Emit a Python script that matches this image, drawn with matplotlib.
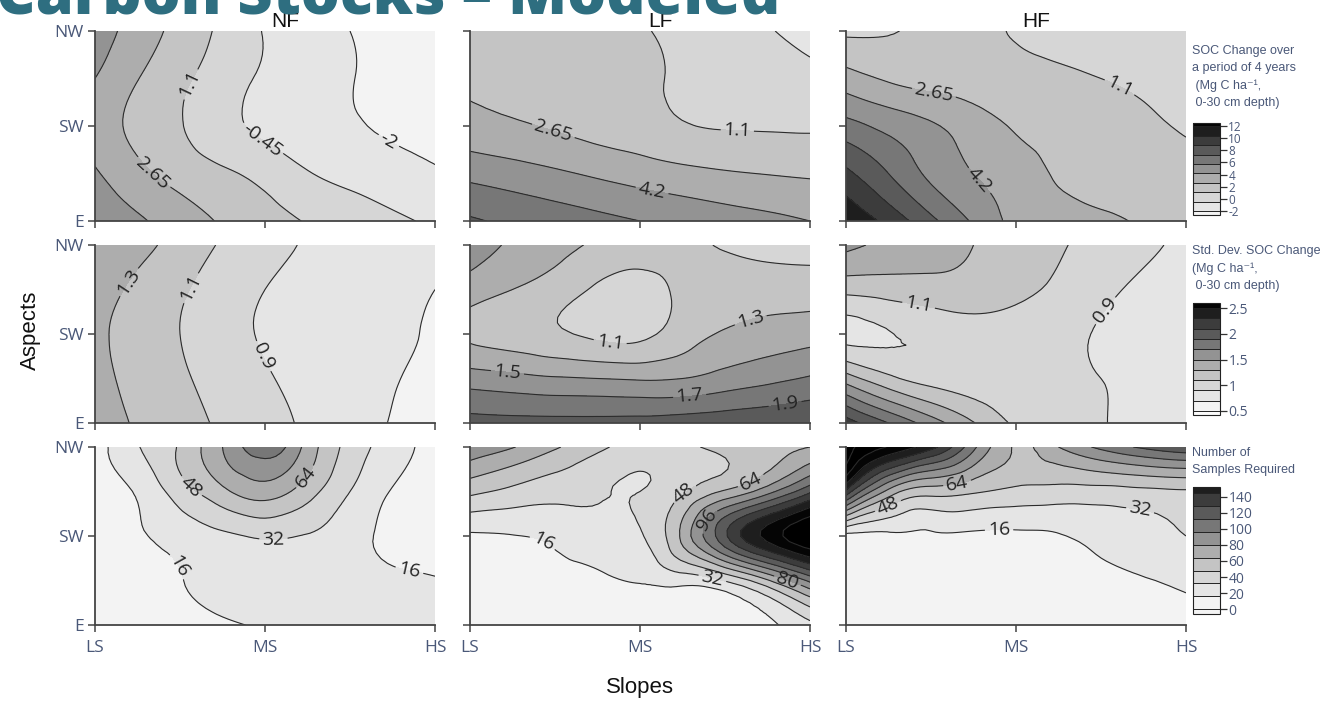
from pathlib import Path

import matplotlib

matplotlib.use("Agg")
import matplotlib.pyplot as plt
import matplotlib.tri as mtri
import numpy as np


OUT = Path("out.png")

FORESTS = ["NF", "LF", "HF"]
SLOPES = ["LS", "MS", "HS"]
ASPECTS = ["E", "SW", "NW"]

# model grid: slope position (LS=0, MS=1, HS=2) x aspect (E=0, SW=1, NW=2)
GRID_X = [0, 0.25, 0.5, 0.75, 1, 1.25, 1.5, 1.75, 2]
GRID_Y = [0, 0.5, 1, 1.5, 2]

# SOC change over 4 years (Mg C/ha), rows go E -> NW
SOC_NF = [
    [5.3, 4.45, 3.4, 2.5, 1.75, 1.0, 0.4, -0.15, -0.7],
    [4.4, 3.05, 2.08, 1.35, 0.6, -0.35, -0.9, -1.4, -1.85],
    [3.4, 2.3, 1.2, 0.02, -0.77, -1.45, -1.85, -2.2, -2.4],
    [4.2, 2.7, 1.45, 0.28, -0.67, -1.3, -1.93, -2.4, -2.7],
    [5.0, 3.53, 2.12, 0.77, -0.54, -1.27, -2.0, -2.5, -2.8],
]
SOC_LF = [
    [7.5, 7.0, 6.6, 6.2, 5.75, 5.35, 4.95, 4.6, 4.2],
    [5.3, 4.9, 4.45, 3.95, 3.5, 3.1, 2.8, 2.6, 2.45],
    [3.2, 2.85, 2.5, 2.1, 1.7, 1.2, 1.0, 0.95, 0.9],
    [2.45, 2.25, 2.0, 1.7, 1.35, 0.9, 0.5, 0.2, -0.1],
    [2.2, 2.0, 1.75, 1.5, 1.2, 0.75, 0.2, -0.35, -0.9],
]
SOC_HF = [
    [11.8, 9.9, 7.7, 5.55, 3.75, 3.3, 2.9, 2.5, 2.1],
    [9.2, 7.3, 5.4, 4.2, 3.3, 2.5, 2.1, 1.85, 1.6],
    [6.3, 5.3, 4.4, 3.4, 2.5, 2.05, 1.7, 1.35, 0.95],
    [3.3, 2.45, 2.0, 1.8, 1.6, 1.35, 1.1, 0.85, 0.55],
    [0.8, 1.0, 1.4, 1.4, 1.0, 0.7, 0.45, 0.25, 0.1],
]

# std. dev. of SOC change
STD_NF = [
    [1.38, 1.28, 1.17, 1.07, 0.97, 0.87, 0.78, 0.69, 0.62],
    [1.36, 1.24, 1.13, 1.02, 0.92, 0.84, 0.77, 0.71, 0.66],
    [1.34, 1.22, 1.1, 0.98, 0.88, 0.82, 0.77, 0.73, 0.68],
    [1.38, 1.26, 1.13, 1.0, 0.9, 0.84, 0.79, 0.75, 0.7],
    [1.42, 1.36, 1.22, 1.08, 0.98, 0.88, 0.84, 0.8, 0.77],
]
STD_LF = [
    [1.97, 1.96, 1.96, 1.96, 1.97, 2.0, 2.03, 2.06, 2.1],
    [1.6, 1.56, 1.52, 1.5, 1.48, 1.5, 1.58, 1.65, 1.72],
    [1.26, 1.2, 1.13, 1.06, 1.05, 1.2, 1.32, 1.38, 1.42],
    [1.4, 1.3, 1.2, 1.07, 1.03, 1.14, 1.2, 1.2, 1.2],
    [1.6, 1.47, 1.37, 1.27, 1.2, 1.15, 1.08, 1.04, 1.02],
]
STD_HF = [
    [2.2, 1.9, 1.6, 1.31, 1.07, 0.99, 0.91, 0.85, 0.8],
    [1.4, 1.15, 1.02, 0.97, 0.95, 0.93, 0.9, 0.86, 0.83],
    [0.84, 0.89, 0.95, 1.0, 1.0, 0.96, 0.88, 0.82, 0.78],
    [1.16, 1.19, 1.22, 1.22, 1.15, 1.06, 0.95, 0.86, 0.8],
    [1.55, 1.45, 1.37, 1.3, 1.21, 1.12, 1.03, 0.94, 0.86],
]

# number of samples required
N_NF = [
    [5, 8, 11, 14.5, 17, 18.5, 20, 21, 22],
    [6, 10, 15.5, 20, 23, 23, 21, 19, 17],
    [7, 14, 22, 29, 34, 31, 22, 12, 8],
    [8, 18, 40, 60, 72, 55, 32, 15, 8],
    [10, 31, 50, 80, 106, 74, 42, 24, 10],
]
N_LF = [
    [5, 6, 7, 8, 9, 10, 12, 13, 28],
    [7, 8, 10, 13, 17, 22, 33, 62, 100],
    [14, 15.5, 19, 24, 30, 68, 125, 165, 190],
    [52, 44, 38, 34, 32, 46, 66, 90, 125],
    [92, 81, 66, 52, 40, 45, 52, 58, 64],
]
N_HF = [
    [6, 6, 6, 6, 7, 7, 8, 9, 11],
    [8, 8, 8, 8, 9, 10, 12, 15, 19],
    [11, 12, 13, 13, 13, 15, 21, 27, 32],
    [140, 75, 55, 50, 44, 42, 42, 44, 46],
    [200, 175, 150, 100, 62, 80, 100, 115, 125],
]

SOC_LEVELS = [-3.55, -2, -0.45, 1.1, 2.65, 4.2, 5.75, 7.3, 8.85, 10.4, 11.95, 13.5]
STD_LEVELS = [0.3, 0.5, 0.7, 0.9, 1.1, 1.3, 1.5, 1.7, 1.9, 2.1, 2.3, 2.5, 2.7]
N_LEVELS = [-16, 0, 16, 32, 48, 64, 80, 96, 112, 128, 144, 160, 176, 192, 208]

GRAYS = ["#f3f3f3", "#e5e5e5", "#d6d6d6", "#c4c4c4", "#adadad", "#939393",
         "#777777", "#5a5a5a", "#3c3c3c", "#1e1e1e", "#050505"]
ROW_COLORS = [
    GRAYS,
    ["#fbfbfb"] + GRAYS,
    ["#f3f3f3"] + GRAYS + ["#000000", "#000000"],
]
# lowest contour line drawn per row
ROW_LINE_FROM = [1, 1, 2]

# contour labels: (level, x, y) per panel
LABELS = [
    [[(1.1, 0.55, 1.45), (2.65, 0.34, 0.5), (-0.45, 0.97, 0.82), (-2, 1.72, 0.82)],
     [(2.65, 0.48, 0.89), (1.1, 1.57, 0.85), (4.2, 1.07, 0.31)],
     [(2.65, 0.51, 1.27), (1.1, 1.61, 1.41), (4.2, 0.77, 0.4)]],
    [[(1.3, 0.21, 1.57), (1.1, 0.58, 1.5), (0.9, 0.98, 0.74)],
     [(1.1, 0.82, 0.84), (1.3, 1.66, 1.1), (1.5, 0.22, 0.56), (1.7, 1.29, 0.35),
      (1.9, 1.85, 0.26)],
     [(1.1, 0.42, 1.25), (0.9, 1.52, 1.27)]],
    [[(48, 0.58, 1.59), (64, 1.24, 1.66), (32, 1.05, 0.96), (16, 0.45, 0.62),
      (16, 1.85, 0.62)],
     [(16, 0.44, 0.98), (48, 1.2, 1.63), (64, 1.63, 1.72), (96, 1.42, 1.15),
      (32, 1.42, 0.48), (80, 1.85, 0.39)],
     [(48, 0.24, 1.37), (64, 0.64, 1.72), (16, 0.9, 1.1), (32, 1.72, 1.18)]],
]

ROWS = [
    ([SOC_NF, SOC_LF, SOC_HF], SOC_LEVELS, [-2, 0, 2, 4, 6, 8, 10, 12], (-2.65, 12.5),
     "SOC Change over\na period of 4 years\n (Mg C ha\u207b\u00b9,\n 0-30 cm depth)"),
    ([STD_NF, STD_LF, STD_HF], STD_LEVELS, [0.5, 1, 1.5, 2, 2.5], (0.42, 2.6),
     "Std. Dev. SOC Change\n(Mg C ha\u207b\u00b9,\n 0-30 cm depth)"),
    ([N_NF, N_LF, N_HF], N_LEVELS, [0, 20, 40, 60, 80, 100, 120, 140], (-6, 152),
     "Number of\nSamples Required"),
]

W, H = 1340, 706
COL_LEFT = [95, 470, 846]
COL_W = 340
ROW_SPAN = [(31, 221), (245, 423), (447, 625)]
CBAR_SPAN = [(123, 215), (303, 415), (487, 614)]
CBAR_TITLE_Y = [45, 245, 447]
CBAR_LABEL_SIZE = [8.5, 10, 10]

TICK_COLOR = "#4a5878"
SPINE_COLOR = "#444444"

plt.rcParams["font.family"] = ["Open Sans", "DejaVu Sans"]


def px_box(left, top, width, bottom):
    return [left / W, 1 - bottom / H, width / W, (bottom - top) / H]


def main():
    fig = plt.figure(figsize=(W / 100, H / 100), dpi=100)
    X, Y = np.meshgrid(GRID_X, GRID_Y)
    tri = mtri.Triangulation(X.ravel(), Y.ravel())
    refiner = mtri.UniformTriRefiner(tri)

    for r, (panels, levels, cticks, clim, ctitle) in enumerate(ROWS):
        top, bottom = ROW_SPAN[r]
        colors = ROW_COLORS[r][:len(levels) - 1]
        cf = None
        for c, z in enumerate(panels):
            ax = fig.add_axes(px_box(COL_LEFT[c], top, COL_W, bottom))
            Z = np.array(z, dtype=float).ravel()
            tri_f, z_f = refiner.refine_field(Z, subdiv=3)
            cf = ax.tricontourf(tri_f, z_f, levels=levels, colors=colors)

            # one line set per level so each label sits on its own level
            for lev in levels[ROW_LINE_FROM[r]:]:
                if not (z_f.min() < lev < z_f.max()):
                    continue
                cl = ax.tricontour(tri_f, z_f, levels=[lev], colors="#2b2b2b",
                                   linewidths=0.8, linestyles="solid")
                spots = [(lx, ly) for lv, lx, ly in LABELS[r][c] if lv == lev]
                if spots:
                    ax.clabel(cl, fmt="%g", fontsize=14, colors="#222222",
                              inline=True, inline_spacing=3, manual=spots)

            ax.set_xlim(0, 2)
            ax.set_ylim(0, 2)
            ax.spines[["top", "right"]].set_visible(False)
            for side in ["left", "bottom"]:
                ax.spines[side].set_color(SPINE_COLOR)
                ax.spines[side].set_linewidth(1.3)
            ax.set_xticks([0, 1, 2])
            ax.set_yticks([0, 1, 2])
            ax.set_xticklabels(SLOPES if r == 2 else [])
            ax.set_yticklabels(ASPECTS if c == 0 else [])
            ax.tick_params(direction="out", length=5, width=1.1, color=SPINE_COLOR,
                           labelcolor=TICK_COLOR, labelsize=12.5, pad=3)
            ax.tick_params(axis="x", pad=6)
            if r == 0:
                fig.text((COL_LEFT[c] + COL_W / 2 + 20) / W, 1 - 27 / H, FORESTS[c],
                         ha="center", va="baseline", fontsize=15,
                         family="Liberation Sans", color="#111111")

        cb_top, cb_bottom = CBAR_SPAN[r]
        cax = fig.add_axes(px_box(1193, cb_top, 27, cb_bottom))
        cb = fig.colorbar(cf, cax=cax, ticks=cticks, drawedges=True,
                          spacing="proportional", format="%g")
        cb.outline.set_edgecolor("#222222")
        cb.outline.set_linewidth(0.8)
        cb.dividers.set_color("#222222")
        cb.dividers.set_linewidth(0.7)
        cax.set_ylim(*clim)
        cax.tick_params(length=5, width=0.9, color="#333333", labelcolor=TICK_COLOR,
                        labelsize=CBAR_LABEL_SIZE[r], pad=1)
        fig.text(1192 / W, 1 - CBAR_TITLE_Y[r] / H, ctitle, ha="left", va="top",
                 fontsize=9, linespacing=1.55, color=TICK_COLOR,
                 family=["Liberation Sans", "DejaVu Sans"])

    fig.text(30 / W, 1 - 330 / H, "Aspects", rotation=90, ha="center", va="center",
             fontsize=16, family="Liberation Sans", color="#111111")
    fig.text(640 / W, 1 - 688 / H, "Slopes", ha="center", va="center",
             fontsize=16, family="Liberation Sans", color="#111111")
    fig.text(-4 / W, 1 - 13 / H, "Carbon Stocks \u2013 Modeled", ha="left",
             va="baseline", fontsize=44, fontweight="heavy", color="#2e6e80")

    fig.savefig(OUT, dpi=100, facecolor="white")
    plt.close(fig)


if __name__ == "__main__":
    main()
